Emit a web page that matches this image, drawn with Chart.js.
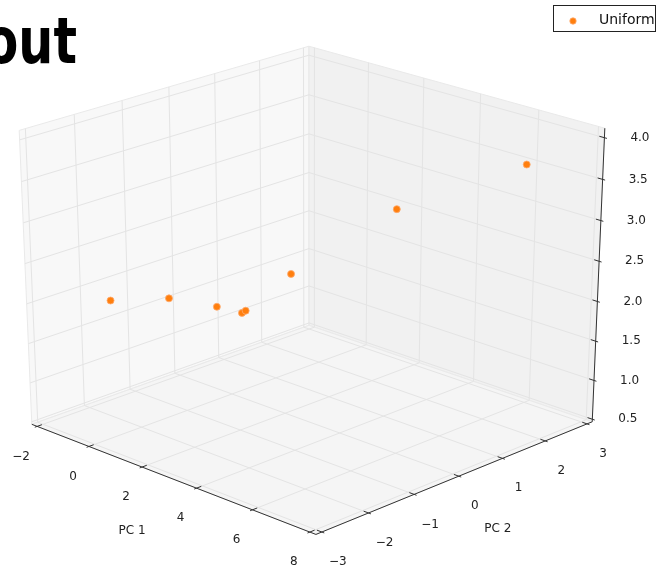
<!DOCTYPE html>
<html>
<head>
<meta charset="utf-8">
<script src="https://cdn.jsdelivr.net/npm/chart.js@4.4.0/dist/chart.umd.min.js"></script>
<style>
  body { margin: 0; background: #fff; }
  #wrap { width: 660px; height: 570px; }
</style>
</head>
<body>
<div id="wrap"><canvas id="chart" width="660" height="570"></canvas></div>
<script>
// values (3D, in data units)
const seriesName = 'Uniform';
const pc1 = [-1.0, 2.07, 3.5, -1.875, -1.46, 5.0, 3.86, 6.87];
const pc2 = [-2.03, -2.52, -2.35, 1.35, 1.19, -1.68, 1.34, 2.28];
const pc3 = [1.965, 2.445, 2.475, 1.03, 1.14, 2.91, 3.0, 3.69];

const pc1Lim = [-2, 8];
const pc2Lim = [-3, 3];
const pc3Lim = [0.54, 4.04];
const pc1Ticks = [-2, 0, 2, 4, 6, 8];
const pc2Ticks = [-3, -2, -1, 0, 1, 2, 3];
const pc3Ticks = [0.5, 1.0, 1.5, 2.0, 2.5, 3.0, 3.5, 4.0];

// view, same idea as mplot3d (elev / azim / dist, perspective)
const ELEV = 25, AZIM = -45.7, DIST = 10;
const PAD = 1 / 48;
const er = ELEV * Math.PI / 180, ar = AZIM * Math.PI / 180;
const nv = [Math.cos(er) * Math.cos(ar), Math.cos(er) * Math.sin(ar), Math.sin(er)];
const uv = [-Math.sin(ar), Math.cos(ar), 0];
const vv = [nv[1] * uv[2] - nv[2] * uv[1], nv[2] * uv[0] - nv[0] * uv[2], nv[0] * uv[1] - nv[1] * uv[0]];

function norm(val, lim) { return (val - lim[0]) / (lim[1] - lim[0]) - 0.5; }
function projN(p) {
    const dot = a => a[0] * p[0] + a[1] * p[1] + a[2] * p[2];
    const w = DIST - dot(nv);
    return { x: dot(uv) / w, y: dot(vv) / w };
}
function proj(x, y, z) { return projN([norm(x, pc1Lim), norm(y, pc2Lim), norm(z, pc3Lim)]); }

const lo = -0.5 - PAD, hi = 0.5 + PAD;
const points = pc1.map((x, i) => proj(x, pc2[i], pc3[i]));

const box3d = {
    id: 'box3d',
    beforeDatasetsDraw(chart) {
        const ctx = chart.ctx;
        const xs = chart.scales.x, ys = chart.scales.y;
        const pix = p => { const q = projN(p); return [xs.getPixelForValue(q.x), ys.getPixelForValue(q.y)]; };
        const line = (a, b, color, width) => {
            const p1 = pix(a), p2 = pix(b);
            ctx.beginPath();
            ctx.moveTo(p1[0], p1[1]);
            ctx.lineTo(p2[0], p2[1]);
            ctx.strokeStyle = color;
            ctx.lineWidth = width;
            ctx.stroke();
        };
        const pane = (pts, fill) => {
            ctx.beginPath();
            pts.forEach((p, i) => { const q = pix(p); i ? ctx.lineTo(q[0], q[1]) : ctx.moveTo(q[0], q[1]); });
            ctx.closePath();
            ctx.fillStyle = fill;
            ctx.fill();
            ctx.strokeStyle = '#e9e9e9';
            ctx.lineWidth = 1;
            ctx.stroke();
        };
        ctx.save();
        // panes
        pane([[lo, lo, lo], [lo, hi, lo], [lo, hi, hi], [lo, lo, hi]], '#f8f8f8');
        pane([[lo, hi, lo], [hi, hi, lo], [hi, hi, hi], [lo, hi, hi]], '#f1f1f1');
        pane([[lo, lo, lo], [hi, lo, lo], [hi, hi, lo], [lo, hi, lo]], '#f5f5f5');

        // grid
        const g = '#e4e4e4';
        pc1Ticks.forEach(t => {
            const x = norm(t, pc1Lim);
            line([x, lo, lo], [x, hi, lo], g, 1);
            line([x, hi, lo], [x, hi, hi], g, 1);
        });
        pc2Ticks.forEach(t => {
            const y = norm(t, pc2Lim);
            line([lo, y, lo], [hi, y, lo], g, 1);
            line([lo, y, lo], [lo, y, hi], g, 1);
        });
        pc3Ticks.forEach(t => {
            const z = norm(t, pc3Lim);
            line([lo, lo, z], [lo, hi, z], g, 1);
            line([lo, hi, z], [hi, hi, z], g, 1);
        });

        // axis lines
        const ac = '#333333';
        line([lo, lo, lo], [hi, lo, lo], ac, 1);
        line([hi, lo, lo], [hi, hi, lo], ac, 1);
        line([hi, hi, lo], [hi, hi, hi], ac, 1);

        // ticks and labels
        const out = 0.1 / 12, inw = 0.2 / 12;
        ctx.fillStyle = '#222';
        ctx.font = '12px "DejaVu Sans"';
        ctx.textBaseline = 'middle';
        ctx.textAlign = 'center';
        pc1Ticks.forEach(t => {
            const x = norm(t, pc1Lim);
            line([x, lo - out, lo], [x, lo + inw, lo], ac, 1);
            const p = pix([x, lo, lo]);
            ctx.fillText(t < 0 ? '\u2212' + Math.abs(t) : String(t), p[0] - 16, p[1] + 30);
        });
        pc2Ticks.forEach(t => {
            const y = norm(t, pc2Lim);
            line([hi + out, y, lo], [hi - inw, y, lo], ac, 1);
            const p = pix([hi, y, lo]);
            ctx.fillText(t < 0 ? '\u2212' + Math.abs(t) : String(t), p[0] + 16, p[1] + 30);
        });
        ctx.textAlign = 'left';
        pc3Ticks.forEach(t => {
            const z = norm(t, pc3Lim);
            line([hi + out, hi, z], [hi - inw, hi, z], ac, 1);
            const p = pix([hi, hi, z]);
            ctx.fillText(t.toFixed(1), p[0] + 26, p[1]);
        });
        ctx.textAlign = 'center';
        const m1 = pix([0, lo, lo]), m2 = pix([hi, 0, lo]);
        ctx.fillText('PC 1', m1[0] - 37, m1[1] + 53);
        ctx.fillText('PC 2', m2[0] + 39, m2[1] + 53);
        ctx.restore();
    },
    afterDraw(chart) {
        const ctx = chart.ctx;
        ctx.save();
        // clipped title
        ctx.fillStyle = '#000';
        ctx.font = 'bold 64px "DejaVu Sans"';
        ctx.textAlign = 'right';
        ctx.textBaseline = 'alphabetic';
        ctx.scale(0.77, 1);
        ctx.fillText('out', 77 / 0.77, 63);
        ctx.restore();

        // legend
        ctx.save();
        ctx.fillStyle = '#fff';
        ctx.fillRect(553.5, 5.5, 102, 26);
        ctx.strokeStyle = '#222';
        ctx.lineWidth = 1;
        ctx.strokeRect(553.5, 5.5, 102, 26);
        ctx.beginPath();
        ctx.arc(573, 21, 3.2, 0, Math.PI * 2);
        ctx.fillStyle = '#ff7f0e';
        ctx.fill();
        ctx.strokeStyle = 'rgba(255,170,110,0.8)';
        ctx.stroke();
        ctx.fillStyle = '#111';
        ctx.font = '14px "DejaVu Sans"';
        ctx.textAlign = 'left';
        ctx.textBaseline = 'middle';
        ctx.fillText(seriesName, 599, 20);
        ctx.restore();
    }
};

new Chart(document.getElementById('chart'), {
    type: 'scatter',
    data: {
        datasets: [{
            label: seriesName,
            data: points,
            backgroundColor: '#ff7f0e',
            borderColor: 'rgba(255,170,110,0.8)',
            borderWidth: 1,
            pointRadius: 3.5,
            pointHoverRadius: 3.5
        }]
    },
    options: {
        responsive: false,
        animation: false,
        layout: { padding: 0 },
        plugins: { legend: { display: false }, tooltip: { enabled: false } },
        scales: {
            x: { type: 'linear', display: false, min: -0.07915, max: 0.08828 },
            y: { type: 'linear', display: false, min: -0.09199, max: 0.08839 }
        }
    },
    plugins: [box3d]
});
</script>
</body>
</html>
